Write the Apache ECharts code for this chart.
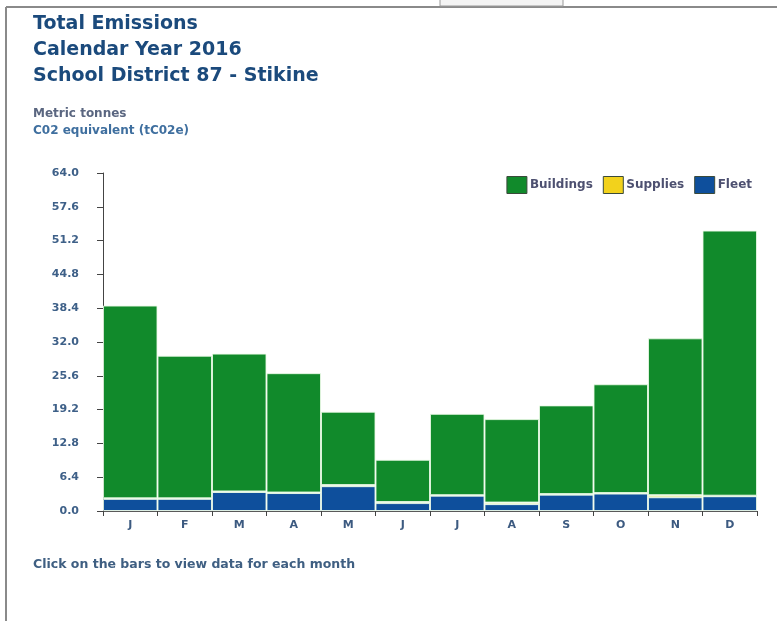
<!DOCTYPE html>
<html><head><meta charset="utf-8">
<script src="https://cdn.jsdelivr.net/npm/echarts@6/dist/echarts.min.js"></script>
<style>html,body{margin:0;padding:0;background:#fff}#c{width:777px;height:621px}</style>
</head><body><div id="c"></div>
<script>
const months = ['J','F','M','A','M','J','J','A','S','O','N','D'];
const fleet = [2.3, 2.3, 3.6, 3.4, 4.7, 1.5, 2.9, 1.3, 3.1, 3.3, 2.6, 2.8];
const supplies = [0.1, 0.1, 0.1, 0.1, 0.2, 0.2, 0.1, 0.3, 0.1, 0.1, 0.4, 0.1];
const buildings = [36.5, 27.0, 26.1, 22.6, 13.9, 8.0, 15.4, 15.8, 16.8, 20.6, 29.7, 50.2];
const yTicks = ['0.0','6.4','12.8','19.2','25.6','32.0','38.4','44.8','51.2','57.6','64.0'];

const font = 'DejaVu Sans';
const chart = echarts.init(document.getElementById('c'), null, {renderer:'canvas'});
const barStyle = c => ({color:c, borderColor:'rgba(235,250,230,0.85)', borderWidth:1});
chart.setOption({
  animation:false,
  backgroundColor:'#fff',
  graphic:[
    {type:'line', shape:{x1:6,y1:7,x2:777,y2:7}, style:{stroke:'#8a8a8a', lineWidth:2}},
    {type:'line', shape:{x1:6,y1:7,x2:6,y2:621}, style:{stroke:'#8a8a8a', lineWidth:2}},
    {type:'rect', shape:{x:440,y:-2,width:123,height:8}, style:{fill:'#f4f4f4', stroke:'#9a9a9a', lineWidth:1}},
    {type:'text', left:33, top:11, style:{text:'Total Emissions\nCalendar Year 2016\nSchool District 87 - Stikine', font:'bold 19px "DejaVu Sans"', fill:'#1b4a7c', lineHeight:26}},
    {type:'text', left:33, top:108, style:{text:'Metric tonnes', font:'bold 12px "DejaVu Sans"', fill:'#5a6680'}},
    {type:'text', left:33, top:125, style:{text:'C02 equivalent (tC02e)', font:'bold 12px "DejaVu Sans"', fill:'#3f6f9f'}},
    {type:'text', left:33, top:558, style:{text:'Click on the bars to view data for each month', font:'bold 12.5px "DejaVu Sans"', fill:'#3f5f82'}}
  ],
  legend:{
    right:20, top:171, itemWidth:20, itemHeight:17, itemGap:10,
    icon:'rect',
    data:['Buildings','Supplies','Fleet'],
    textStyle:{fontFamily:font, fontSize:12, fontWeight:'bold', color:'#4d5070', padding:[0,0,0,-2]},
    itemStyle:{borderColor:'#3a4a3a', borderWidth:1}
  },
  grid:{left:103, right:20, top:173, bottom:110},
  xAxis:{
    type:'category', data:months,
    axisLine:{show:true, lineStyle:{color:'#5a5a5a', width:1}},
    axisTick:{show:true, length:5, lineStyle:{color:'#444'}},
    axisLabel:{fontFamily:font, fontSize:11, fontWeight:'bold', color:'#3c5a80', margin:9}
  },
  yAxis:{
    type:'value', min:0, max:64, interval:6.4,
    axisLine:{show:true, lineStyle:{color:'#444', width:1}},
    axisTick:{show:true, length:6, lineStyle:{color:'#444'}},
    splitLine:{show:false},
    axisLabel:{fontFamily:font, fontSize:11, fontWeight:'bold', color:'#3e6088', margin:24,
      formatter:(v)=>{const i=Math.round(v/6.4);return yTicks[i]!==undefined?yTicks[i]:v.toFixed(1);}}
  },
  series:[
    {name:'Fleet', type:'bar', stack:'t', data:fleet, barCategoryGap:'0%', itemStyle:barStyle('#0e4f9c')},
    {name:'Supplies', type:'bar', stack:'t', data:supplies, barCategoryGap:'0%', itemStyle:barStyle('#f2d21c')},
    {name:'Buildings', type:'bar', stack:'t', data:buildings, barCategoryGap:'0%', itemStyle:barStyle('#118a2b')}
  ],
  color:['#0e4f9c','#f2d21c','#118a2b']
});
</script></body></html>
